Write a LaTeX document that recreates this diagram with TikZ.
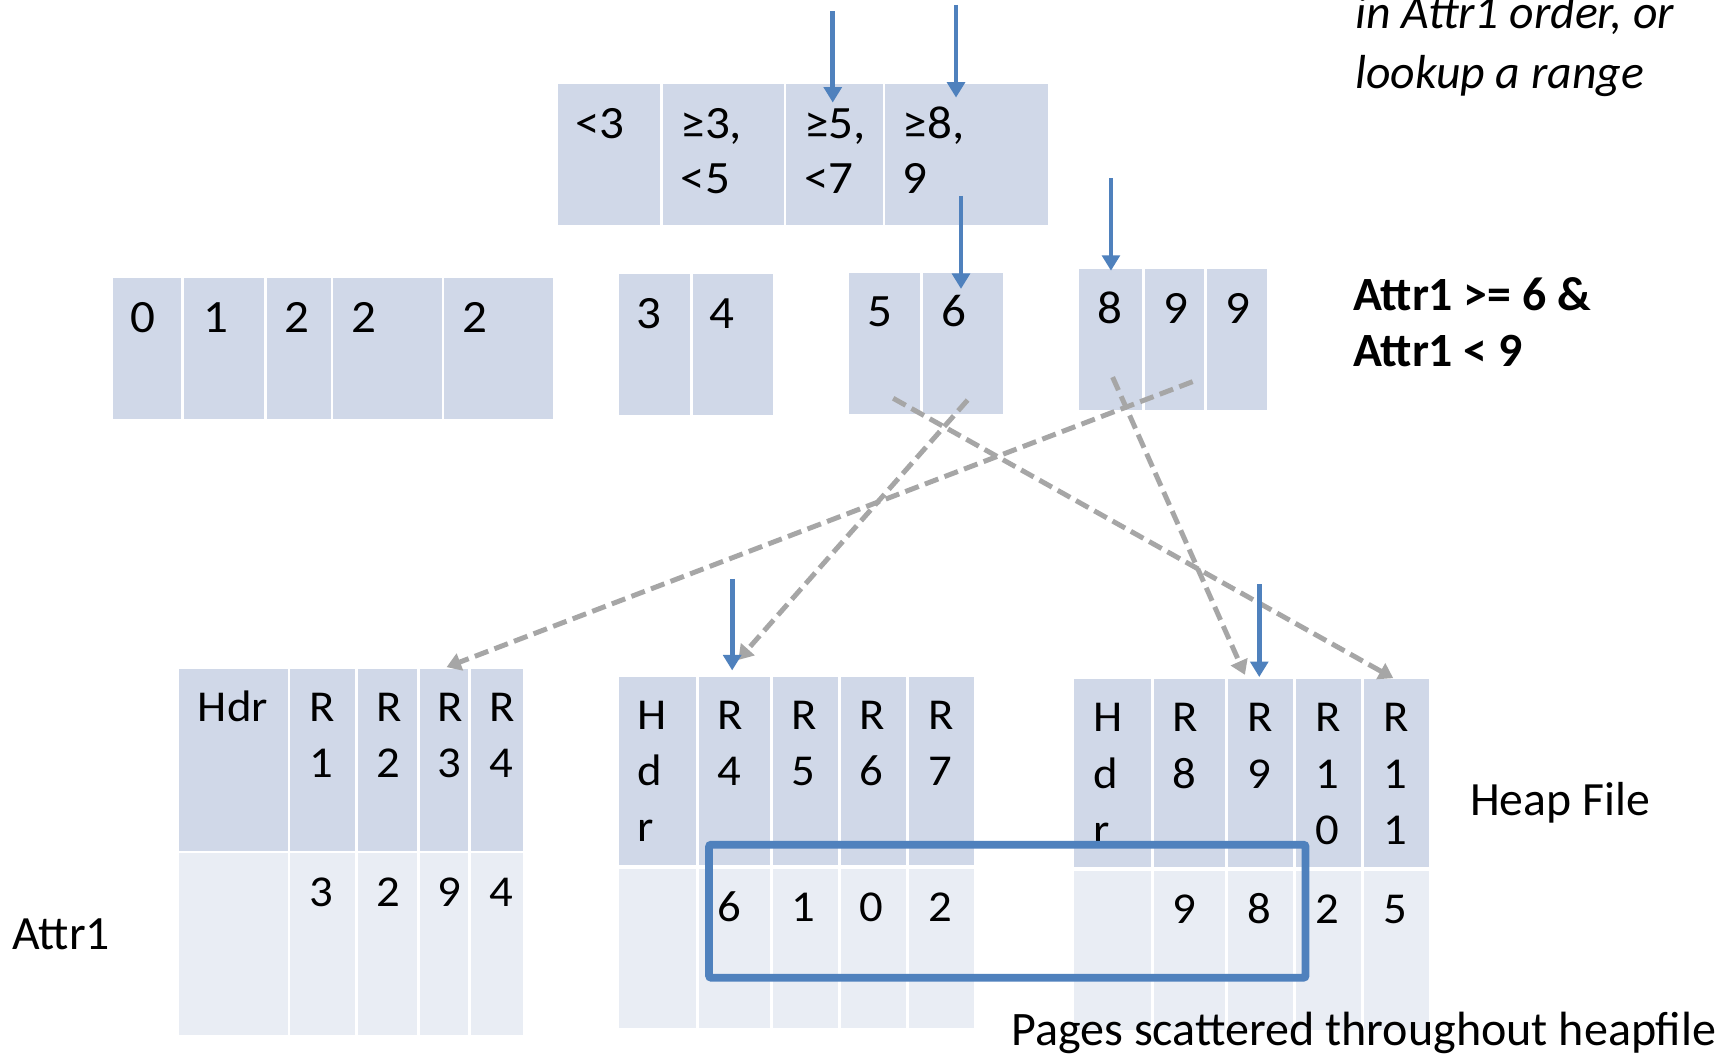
\documentclass[tikz,border=0pt]{standalone}
\usepackage{fontspec}
\setmainfont{Carlito}
\newfontfamily\cellfam[FakeStretch=1.06]{Carlito}
\usetikzlibrary{arrows.meta}

\definecolor{cellA}{HTML}{D0D8E8}
\definecolor{cellB}{HTML}{E9EDF4}
\definecolor{ptrblue}{HTML}{4F81BD}
\definecolor{ridgray}{HTML}{A6A6A6}

\newcommand\keyfont{\cellfam\fontsize{42}{50}\selectfont}
\newcommand\recfont{\cellfam\fontsize{40}{50}\selectfont}
\newcommand\notefont{\fontsize{43.3}{52}\selectfont}

% one table cell: style, name, left, right, top, bottom
\newcommand\mkcell[6]{%
  \node[#1, minimum width={#4-#3}, minimum height={#6-#5}] (#2) at (#3,#5) {};}

\tikzset{
  box/.style={inner sep=0pt, outer sep=0pt, anchor=north west, draw=none},
  keybox/.style={box, fill=cellA},
  valbox/.style={box, fill=cellB},
  keytext/.style={anchor=base west, inner sep=0pt, font=\keyfont},
  rectext/.style={anchor=base west, inner sep=0pt, font=\recfont},
  note/.style={anchor=base west, inner sep=0pt, font=\notefont},
  ptr/.style={draw=ptrblue, line width=4.3pt, -{Triangle[width=16pt,length=14pt]}},
  rid/.style={draw=ridgray, line width=4.5pt, dash pattern=on 13pt off 6pt,
              -{Triangle[width=16pt,length=13pt]}},
  selbox/.style={draw=ptrblue, line width=7pt, rounded corners=2pt, inner sep=0pt,
                 outer sep=0pt, anchor=north west},
}

\begin{document}
\begin{tikzpicture}[x=1pt,y=-1pt]
\fill[white] (0,0) rectangle (1568,957);
\useasboundingbox (0,0) rectangle (1568,957);

% ---------- root index node ----------
\mkcell{keybox}{i1}{506}{598.7}{76.2}{204.4}
\mkcell{keybox}{i2}{601.2}{710.8}{76.2}{204.4}
\mkcell{keybox}{i3}{713}{800.4}{76.2}{204.4}
\mkcell{keybox}{i4}{802.6}{950}{76.2}{204.4}
\node[keytext] (ti1a) at (521.5,125.5) {<3};
\node[keytext] (ti2a) at (617,125.5) {≥3,};
\node[keytext] (ti2b) at (617,175.3) {<5};
\node[keytext] (ti3a) at (729,125.5) {≥5,};
\node[keytext] (ti3b) at (729,175.3) {<7};
\node[keytext] (ti4a) at (818.5,125.5) {≥8,};
\node[keytext] (ti4b) at (818.5,175.3) {9};

% ---------- leaf nodes ----------
\foreach \n/\l/\r/\x/\t in {1/102.8/164.1/118.2/0, 2/166.9/239.1/184/1,
    3/241.8/299.9/258.2/2, 4/302.3/400.5/318.3/2, 5/402.7/501.2/419/2}{
  \mkcell{keybox}{la\n}{\l}{\r}{252.4}{380.3}
  \node[keytext] (tla\n) at (\x,301.7) {\t};
}
\foreach \n/\l/\r/\x/\t in {1/561.5/625.9/577.4/3, 2/628.4/701.2/643.3/4}{
  \mkcell{keybox}{lb\n}{\l}{\r}{248.5}{376.4}
  \node[keytext] (tlb\n) at (\x,297.8) {\t};
}
\foreach \n/\l/\r/\x/\t in {1/770.2/834.3/786.3/5, 2/837.3/909.3/853.4/6}{
  \mkcell{keybox}{lc\n}{\l}{\r}{247.9}{375.4}
  \node[keytext] (tlc\n) at (\x,296.2) {\t};
}
\foreach \n/\l/\r/\x/\t in {1/978.8/1036/994.8/8, 2/1038.7/1092.2/1054.7/9,
    3/1094.6/1148.7/1111.2/9}{
  \mkcell{keybox}{ld\n}{\l}{\r}{244.2}{371.8}
  \node[keytext] (tld\n) at (\x,293.2) {\t};
}

% ---------- heap file pages ----------
% page 1
\foreach \n/\l/\r in {1/162.3/260.9, 2/263/322, 3/324.7/378, 4/381/424.6, 5/427/474}{
  \mkcell{keybox}{pa\n}{\l}{\r}{606.7}{771.5}
  \mkcell{valbox}{qa\n}{\l}{\r}{773.6}{938.6}
}
\node[rectext] (tpah) at (179.3,654.5) {Hdr};
\foreach \n/\x/\k/\v in {1/280.5/1/3, 2/341.6/2/2, 3/396.8/3/9, 4/443.8/4/4}{
  \node[rectext] (tpa\n r) at (\x,654.5) {R};
  \node[rectext] (tpa\n k) at (\x,704.8) {\k};
  \node[rectext] (tqa\n) at (\x,822.2) {\v};
}
% page 2
\foreach \n/\l/\r in {1/561.4/631.2, 2/633.6/698.3, 3/700.7/760.3, 4/762.7/821.6, 5/824.3/883.6}{
  \mkcell{keybox}{pb\n}{\l}{\r}{613.7}{784.8}
  \mkcell{valbox}{qb\n}{\l}{\r}{787.8}{932.3}
}
\node[rectext] (tpbh1) at (578.3,662) {H};
\node[rectext] (tpbh2) at (578.3,712) {d};
\node[rectext] (tpbh3) at (578.3,763.5) {r};
\foreach \n/\x/\k/\v in {1/650.1/4/6, 2/717.7/5/1, 3/779.3/6/0, 4/841.6/7/2}{
  \node[rectext] (tpb\n r) at (\x,662) {R};
  \node[rectext] (tpb\n k) at (\x,712) {\k};
  \node[rectext] (tqb\n) at (\x,835.8) {\v};
}
% page 3
\foreach \n/\l/\r in {1/974.3/1043.5, 2/1046.5/1110.9, 3/1113.3/1172.9, 4/1175.3/1234.3, 5/1237/1296.2}{
  \mkcell{keybox}{pc\n}{\l}{\r}{615.8}{786.6}
  \mkcell{valbox}{qc\n}{\l}{\r}{789.6}{934}
}
\node[rectext] (tpch1) at (991.2,663.5) {H};
\node[rectext] (tpch2) at (991.2,715) {d};
\node[rectext] (tpch3) at (991.2,766.3) {r};
\foreach \n/\x/\k/\v in {1/1062.8/8/9, 2/1130.8/9/8, 3/1192.8/1/2, 4/1254.8/1/5}{
  \node[rectext] (tpc\n r) at (\x,663.5) {R};
  \node[rectext] (tpc\n k) at (\x,715) {\k};
  \node[rectext] (tqc\n) at (\x,837.3) {\v};
}
\node[rectext] (tpc3z) at (1192.8,766.3) {0};
\node[rectext] (tpc4z) at (1254.8,766.3) {1};

% ---------- labels ----------
\node[note, font=\notefont\itshape] (q1) at (1229,25.7) {in Attr1 order, or};
\node[note, font=\notefont\itshape] (q2) at (1229,80.1) {lookup a range};
\node[note, font=\notefont\bfseries] (c1) at (1227,281.5) {Attr1 >= 6 \&};
\node[note, font=\notefont\bfseries] (c2) at (1227,332) {Attr1 < 9};
\node[note] (heap) at (1333,739.5) {Heap File};
\node[note] (attr) at (11,861) {Attr1};

% ---------- record id pointers from leaves to pages ----------
\coordinate (g1s) at (1081.6,346.1);  \coordinate (g1e) at (405,605);
\coordinate (g2s) at (877.5,362.8);   \coordinate (g2e) at (669.6,598.5);
\coordinate (g3s) at (810,361.2);     \coordinate (g3e) at (1263.5,615);
\coordinate (g4s) at (1009,342);      \coordinate (g4e) at (1129,612);
\draw[rid] (g1s) -- (g1e);
\draw[rid] (g2s) -- (g2e);
\draw[rid] (g3s) -- (g3e);
\draw[rid] (g4s) -- (g4e);

% ---------- scan cursors ----------
\coordinate (a1s) at (755.2,10);    \coordinate (a1e) at (755.2,93);
\coordinate (a2s) at (867,4.5);     \coordinate (a2e) at (867,88.5);
\coordinate (a3s) at (871.5,177.7); \coordinate (a3e) at (871.5,262);
\coordinate (a4s) at (1007.5,161.7);\coordinate (a4e) at (1007.5,245.5);
\coordinate (a5s) at (664,525);     \coordinate (a5e) at (664,608);
\coordinate (a6s) at (1142,530);    \coordinate (a6e) at (1142,614);
\foreach \k in {1,...,6}{ \draw[ptr] (a\k s) -- (a\k e); }

% ---------- selected records ----------
\node[selbox, minimum width=541, minimum height=120.7] (sel) at (643,766) {};

\node[note, font=\fontsize{43.6}{52}\selectfont] (scat) at (917,948.5) {Pages scattered throughout heapfile};
\end{tikzpicture}
\end{document}
